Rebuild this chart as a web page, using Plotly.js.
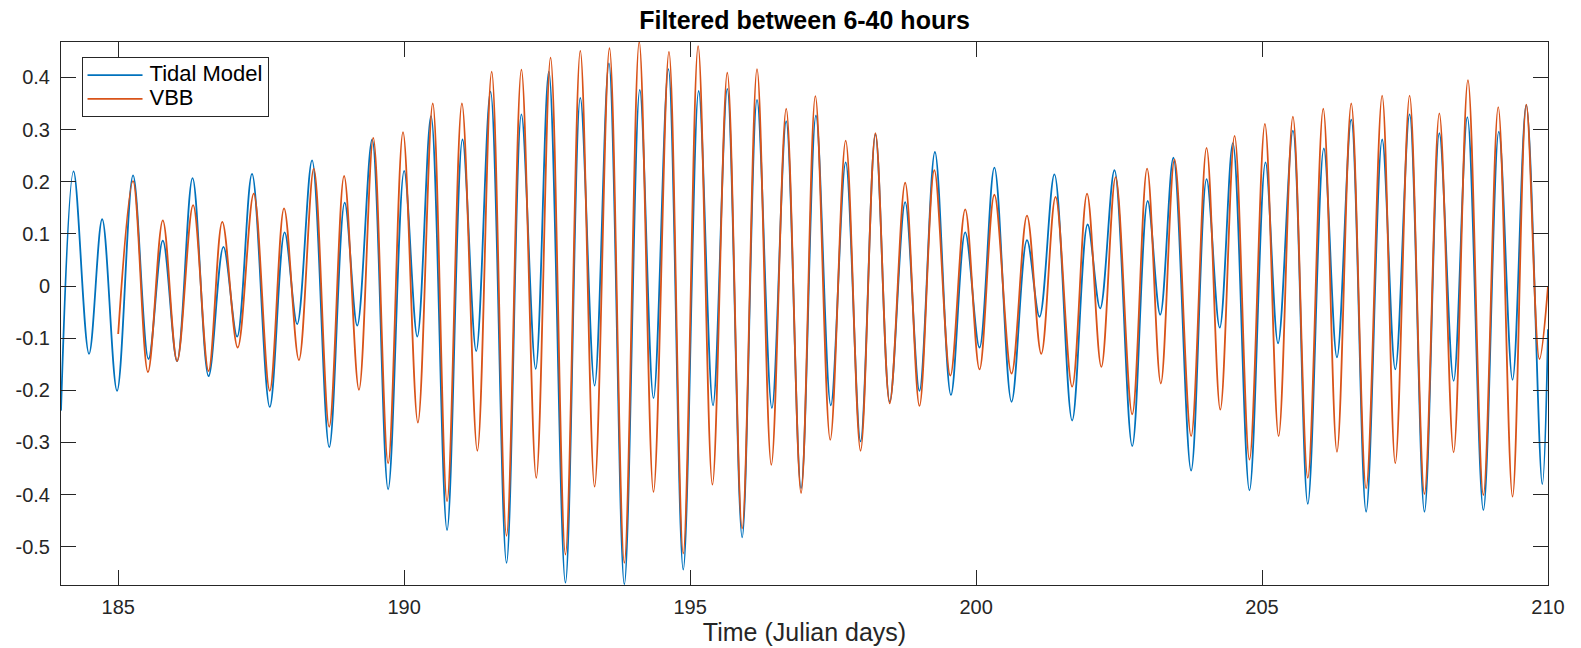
<!DOCTYPE html>
<html>
<head>
<meta charset="utf-8">
<script src="https://cdn.plot.ly/plotly-3.0.1.min.js"></script>
<style>html,body{margin:0;padding:0;background:#fff;}#chart{width:1581px;height:648px;}</style>
</head>
<body>
<div id="chart"></div>
<script>
// Tidal Model: turning points (time in Julian days, value)
const tidalTime = [184.00,184.22,184.49,184.72,184.98,185.26,185.53,185.78,186.03,186.30,186.58,186.84,187.08,187.34,187.65,187.91,188.13,188.39,188.69,188.96,189.18,189.44,189.72,190.00,190.23,190.47,190.75,191.02,191.26,191.51,191.79,192.05,192.30,192.53,192.82,193.08,193.33,193.58,193.85,194.12,194.36,194.62,194.88,195.15,195.40,195.65,195.91,196.17,196.43,196.68,196.94,197.20,197.46,197.72,197.98,198.24,198.49,198.76,199.01,199.28,199.56,199.81,200.06,200.32,200.62,200.89,201.11,201.37,201.68,201.95,202.17,202.42,202.73,203.00,203.22,203.45,203.76,204.03,204.26,204.49,204.78,205.06,205.28,205.54,205.80,206.08,206.31,206.56,206.82,207.10,207.33,207.58,207.84,208.10,208.35,208.59,208.87,209.14,209.38,209.62,209.90,210.00];
const tidalValue = [-0.239,0.220,-0.130,0.128,-0.201,0.212,-0.140,0.087,-0.144,0.207,-0.173,0.075,-0.097,0.215,-0.232,0.103,-0.073,0.241,-0.309,0.160,-0.076,0.281,-0.390,0.221,-0.097,0.326,-0.468,0.281,-0.125,0.373,-0.531,0.329,-0.159,0.411,-0.569,0.361,-0.191,0.427,-0.572,0.376,-0.215,0.416,-0.544,0.374,-0.229,0.378,-0.482,0.357,-0.234,0.316,-0.388,0.327,-0.229,0.237,-0.298,0.291,-0.222,0.161,-0.201,0.257,-0.209,0.103,-0.118,0.227,-0.222,0.088,-0.059,0.214,-0.258,0.118,-0.043,0.222,-0.307,0.163,-0.055,0.246,-0.354,0.205,-0.080,0.274,-0.392,0.237,-0.110,0.298,-0.418,0.264,-0.137,0.319,-0.433,0.281,-0.160,0.329,-0.433,0.293,-0.182,0.324,-0.430,0.296,-0.180,0.347,-0.380,-0.083];

// VBB: turning points
const vbbTime = [185.00,185.26,185.52,185.78,186.03,186.31,186.58,186.82,187.09,187.37,187.65,187.90,188.16,188.42,188.69,188.95,189.21,189.46,189.72,189.98,190.24,190.50,190.75,191.01,191.28,191.53,191.79,192.05,192.31,192.56,192.82,193.08,193.33,193.59,193.85,194.11,194.36,194.63,194.88,195.14,195.39,195.65,195.91,196.17,196.42,196.68,196.94,197.19,197.45,197.72,197.98,198.24,198.49,198.76,199.01,199.27,199.55,199.81,200.06,200.32,200.62,200.89,201.14,201.39,201.68,201.94,202.19,202.44,202.73,202.99,203.23,203.47,203.76,204.03,204.27,204.52,204.78,205.05,205.29,205.54,205.80,206.07,206.31,206.56,206.82,207.10,207.33,207.58,207.84,208.10,208.35,208.60,208.87,209.13,209.38,209.62,209.85,210.00];
const vbbValue = [-0.092,0.201,-0.165,0.126,-0.144,0.155,-0.163,0.123,-0.118,0.177,-0.201,0.149,-0.142,0.225,-0.270,0.211,-0.199,0.284,-0.340,0.295,-0.262,0.350,-0.413,0.350,-0.316,0.411,-0.479,0.415,-0.368,0.438,-0.515,0.451,-0.385,0.456,-0.531,0.468,-0.395,0.449,-0.513,0.460,-0.381,0.409,-0.465,0.416,-0.343,0.340,-0.397,0.364,-0.295,0.279,-0.316,0.293,-0.225,0.198,-0.230,0.222,-0.172,0.147,-0.160,0.175,-0.168,0.135,-0.130,0.171,-0.193,0.177,-0.155,0.209,-0.246,0.225,-0.187,0.243,-0.288,0.265,-0.237,0.288,-0.333,0.311,-0.288,0.325,-0.368,0.340,-0.318,0.350,-0.388,0.365,-0.340,0.365,-0.399,0.331,-0.319,0.395,-0.401,0.343,-0.404,0.348,-0.140,0.000];

const seriesNames = ['Tidal Model', 'VBB'];
const xTickVals = [185,190,195,200,205,210];
const xTickText = ['185','190','195','200','205','210'];
const yTickVals = [-0.5,-0.4,-0.3,-0.2,-0.1,0,0.1,0.2,0.3,0.4];
const yTickText = ['-0.5','-0.4','-0.3','-0.2','-0.1','0','0.1','0.2','0.3','0.4'];

const FONT = '"Liberation Sans", Arial, Helvetica, sans-serif';
const AX = '#262626';

function legendLabel(s) { return '<span style="font-size:22px">' + s + '</span>'; }

const traces = [
  {x: tidalTime, y: tidalValue, name: legendLabel(seriesNames[0]), type: 'scatter', mode: 'lines',
   line: {color: '#0072BD', width: 1.8, shape: 'spline', smoothing: 1.0}},
  {x: vbbTime, y: vbbValue, name: legendLabel(seriesNames[1]), type: 'scatter', mode: 'lines',
   line: {color: '#D95319', width: 1.8, shape: 'spline', smoothing: 1.0}}
];

const axisCommon = {
  showgrid: false, zeroline: false, showline: true, linecolor: AX, linewidth: 1,
  mirror: 'ticks', ticks: 'inside', ticklen: 15, tickwidth: 1, tickcolor: AX,
  tickfont: {family: FONT, size: 20, color: AX}
};

const layout = {
  width: 1581, height: 648,
  margin: {l: 61, r: 33, t: 42, b: 63, pad: 0},
  paper_bgcolor: '#ffffff', plot_bgcolor: '#ffffff',
  font: {family: FONT, color: AX},
  title: {text: '<b>Filtered between 6-40 hours</b>', font: {family: FONT, size: 25, color: '#000000'},
          x: 0.5, xref: 'paper', xanchor: 'center', y: 1 - 20/648, yref: 'container', yanchor: 'middle'},
  xaxis: Object.assign({}, axisCommon, {
    range: [184, 210], tickmode: 'array', tickvals: xTickVals, ticktext: xTickText,
    ticklabelstandoff: 4,
    title: {text: 'Time (Julian days)', font: {family: FONT, size: 25, color: AX}, standoff: 5}
  }),
  yaxis: Object.assign({}, axisCommon, {
    range: [-0.5735, 0.468], tickmode: 'array', tickvals: yTickVals, ticktext: yTickText,
    ticklabelstandoff: 6
  }),
  showlegend: true,
  legend: {x: 0.0138, y: 0.972, xanchor: 'left', yanchor: 'top', bgcolor: '#ffffff',
           bordercolor: AX, borderwidth: 1, font: {family: FONT, size: 16, color: '#000000'},
           itemwidth: 57, tracegroupgap: 0}
};

Plotly.newPlot('chart', traces, layout, {displayModeBar: false, staticPlot: true}).then(function (gd) {
  // MATLAB-style longer legend line samples
  gd.querySelectorAll('.legend .legendlines path').forEach(function (p) { p.setAttribute('d', 'M5,0h55'); });
});
</script>
</body>
</html>
